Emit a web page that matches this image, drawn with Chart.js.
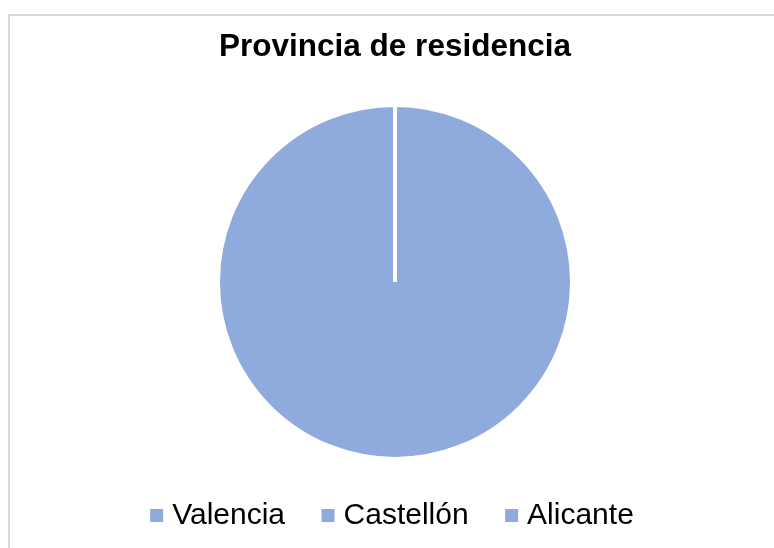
<!DOCTYPE html>
<html>
<head>
<meta charset="utf-8">
<script src="https://cdn.jsdelivr.net/npm/chart.js@4/dist/chart.umd.min.js"></script>
<style>
  html, body { margin: 0; padding: 0; background: #fff; }
  #wrap { position: relative; width: 774px; height: 548px; overflow: hidden; }
  #frame { position: absolute; left: 8px; top: 14px; width: 800px; height: 600px;
           border-left: 2px solid #d9d9d9; border-top: 2px solid #d9d9d9; }
  #box { position: absolute; left: 0; top: 0; width: 774px; height: 548px; }
</style>
</head>
<body>
<div id="wrap">
  <div id="frame"></div>
  <div id="box"><canvas id="provChart"></canvas></div>
</div>
<script>
// Datos del gráfico
const categorias = ['Valencia', 'Castellón', 'Alicante'];
const valores = [100, 0, 0];
const colores = ['#8FAADC', '#8FAADC', '#8FAADC'];

const ctx = document.getElementById('provChart').getContext('2d');

new Chart(ctx, {
    type: 'pie',
    data: {
        labels: categorias,
        datasets: [{
            data: valores,
            backgroundColor: colores,
            borderColor: '#ffffff',
            borderWidth: 4
        }]
    },
    options: {
        responsive: true,
        maintainAspectRatio: false,
        animation: false,
        devicePixelRatio: 1,
        radius: 177,
        layout: {
            padding: { left: 16, right: 0, top: 0, bottom: 7.5 }
        },
        plugins: {
            title: {
                display: true,
                text: 'Provincia de residencia',
                color: '#000',
                font: { family: 'Liberation Sans, Arial, sans-serif', size: 31.5, weight: 'bold' },
                padding: { top: 28.5, bottom: 39.5 }
            },
            legend: {
                position: 'bottom',
                labels: {
                    color: '#000',
                    font: { family: 'Liberation Sans, Arial, sans-serif', size: 30 },
                    usePointStyle: true,
                    pointStyle: 'rect',
                    boxWidth: 1,
                    boxHeight: 13,
                    padding: 42.5,
                    generateLabels: function(chart) {
                        // misma leyenda por defecto, sin borde blanco en los cuadrados
                        const items = Chart.overrides.pie.plugins.legend.labels.generateLabels(chart);
                        return items.map(function(it) {
                            it.lineWidth = 0;
                            it.hidden = false;
                            return it;
                        });
                    }
                }
            },
            tooltip: { enabled: false }
        }
    }
});
</script>
</body>
</html>
